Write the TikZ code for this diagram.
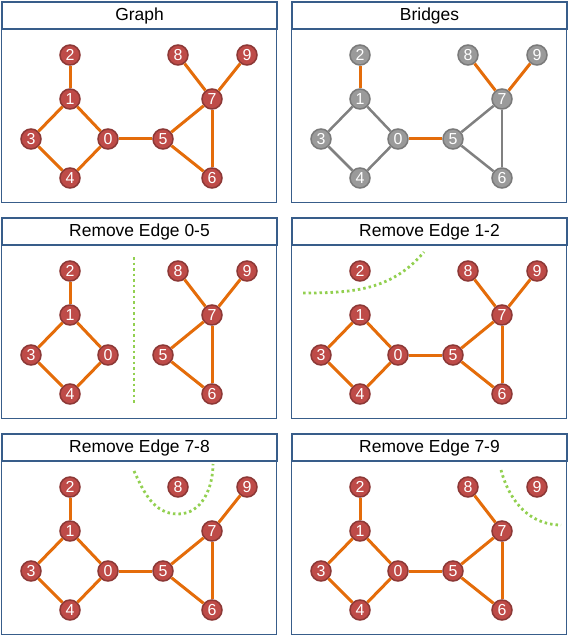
\documentclass[tikz,border=0pt]{standalone}
\usepackage{fontspec}
\setmainfont{Liberation Sans}
\usepackage{tikz}
\usetikzlibrary{shapes}
\definecolor{frameblue}{HTML}{385D8A}
\definecolor{edgeorange}{HTML}{E46C0A}
\definecolor{nodefill}{HTML}{BE4B48}
\definecolor{nodeborder}{HTML}{8C3836}
\definecolor{grayfill}{HTML}{9A9A9A}
\definecolor{grayborder}{HTML}{7A7A7A}
\definecolor{edgegray}{HTML}{808080}
\definecolor{cutgreen}{HTML}{92D050}
\tikzstyle{vertex} = [circle, draw=nodeborder, fill=nodefill, line width=1.5bp,
    text=white, inner sep=0pt, minimum size=20bp, font=\fontsize{16}{16}\selectfont]
\tikzstyle{grayvertex} = [vertex, draw=grayborder, fill=grayfill]
\tikzstyle{edge} = [draw, edgeorange, line width=3bp]
\tikzstyle{grayedge} = [draw, edgegray, line width=2.5bp]
\tikzstyle{frame} = [rectangle, draw=frameblue, line width=1bp, inner sep=0pt,
    minimum width=275bp, minimum height=201bp, anchor=north west]
\tikzstyle{title} = [rectangle, draw=frameblue, fill=white, line width=2bp, inner sep=0pt,
    minimum width=275bp, minimum height=27bp, anchor=north west, font=\fontsize{17.5}{17.5}\selectfont]
\tikzstyle{cut} = [draw, cutgreen, line width=2.8bp, dash pattern=on 2.5bp off 3bp]

% frame, title and the ten vertices of one panel
\newcommand{\graphpanel}[5]{%
  \begin{scope}[shift={(#1,#2)}, name prefix=#5-]
    \node [frame] (frame) at (0,0) {};
    \node [title] (title) at (0,0) {#3};
    \foreach \n/\x/\y in {0/107/138, 1/69/98, 2/69/54, 3/30/138, 4/69/177,
                          5/162/138, 6/211/177, 7/211/98, 8/177/54, 9/246/54}
      \node [#4] (v\n) at (\x,\y) {\n};
  \end{scope}}

\begin{document}
\begin{tikzpicture}[x=1bp, y=-1bp]
    \useasboundingbox (0,0) rectangle (568,636);
    % Place panels
    \graphpanel{1}{1}{Graph}{vertex}{a}
    \graphpanel{291}{1}{Bridges}{grayvertex}{b}
    \graphpanel{1}{217}{Remove Edge 0-5}{vertex}{c}
    \graphpanel{291}{217}{Remove Edge 1-2}{vertex}{d}
    \graphpanel{1}{433}{Remove Edge 7-8}{vertex}{e}
    \graphpanel{291}{433}{Remove Edge 7-9}{vertex}{f}
    % Draw edges
    \foreach \s/\t in {0/1,1/2,1/3,3/4,4/0,0/5,5/7,5/6,6/7,7/8,7/9}
      \path [edge] (a-v\s) -- (a-v\t);
    \foreach \s/\t in {0/1,1/3,3/4,4/0,5/7,5/6,6/7}
      \path [grayedge] (b-v\s) -- (b-v\t);
    \foreach \s/\t in {1/2,0/5,7/8,7/9}
      \path [edge] (b-v\s) -- (b-v\t);
    \foreach \s/\t in {0/1,1/2,1/3,3/4,4/0,5/7,5/6,6/7,7/8,7/9}
      \path [edge] (c-v\s) -- (c-v\t);
    \foreach \s/\t in {0/1,1/3,3/4,4/0,0/5,5/7,5/6,6/7,7/8,7/9}
      \path [edge] (d-v\s) -- (d-v\t);
    \foreach \s/\t in {0/1,1/2,1/3,3/4,4/0,0/5,5/7,5/6,6/7,7/9}
      \path [edge] (e-v\s) -- (e-v\t);
    \foreach \s/\t in {0/1,1/2,1/3,3/4,4/0,0/5,5/7,5/6,6/7,7/8}
      \path [edge] (f-v\s) -- (f-v\t);
    % Draw cuts
    \coordinate (cut c1) at (134,257);
    \coordinate (cut c2) at (134,403);
    \path [cut] (cut c1) -- (cut c2);
    \coordinate (cut d1) at (303,293);
    \coordinate (cut d2) at (424,252);
    \path [cut] (cut d1) to[out=0, in=-130] (cut d2);
    \coordinate (cut e1) at (134,471);
    \coordinate (cut e2) at (178,514);
    \coordinate (cut e3) at (213,464);
    \path [cut] (cut e1) to[out=-65, in=180] (cut e2) to[out=0, in=-90] (cut e3);
    \coordinate (cut f1) at (501,470);
    \coordinate (cut f2) at (561,525);
    \path [cut] (cut f1) to[out=-75, in=180] (cut f2);
\end{tikzpicture}
\end{document}
